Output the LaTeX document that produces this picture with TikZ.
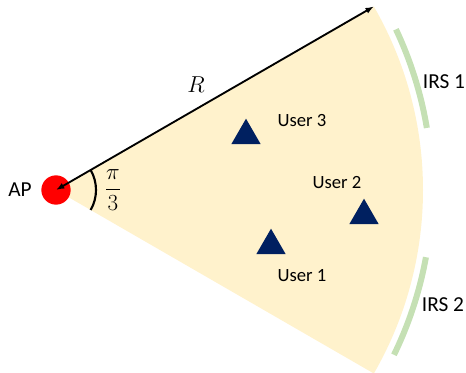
\documentclass[tikz,border=0pt]{standalone}
\usepackage{amsmath}
\usepackage{fontspec}
\setmainfont{Carlito}
\usepackage{tikz}
\usetikzlibrary{positioning,arrows.meta,shapes.geometric}
\definecolor{sectorfill}{HTML}{FFF2CC}
\definecolor{usernavy}{HTML}{002060}
\definecolor{irsgreen}{HTML}{C5E0B4}

\begin{document}
\begin{tikzpicture}[
  x=0.75pt, y=0.75pt,
  lbl/.style={font=\fontsize{14}{16}\selectfont, inner sep=0pt},
  biglbl/.style={font=\fontsize{16}{18}\selectfont, inner sep=0pt},
  user/.style={regular polygon, regular polygon sides=3, fill=usernavy, minimum size=25.5pt, inner sep=0pt},
  irs/.style={irsgreen, line width=4.5pt},
  arr/.style={{Latex[length=2.2mm]}-{Latex[length=2.2mm]}, line width=1.4pt}
]
\useasboundingbox (-56,-183) rectangle (410,190);
\coordinate (ap0) at (0,0);
\coordinate (tip) at (30:367);
\fill[sectorfill] (ap0) -- (tip) arc[start angle=30, end angle=-30, radius=367] -- cycle;
\draw[irs] (25.3:376) arc[start angle=25.3, end angle=9.5, radius=376];
\draw[irs] (-10.3:376) arc[start angle=-10.3, end angle=-26, radius=376];
\node[circle, fill=red, minimum size=22pt, inner sep=0pt] (ap) at (ap0) {};
\draw[arr] (tip) -- (ap0);
\draw[line width=1.6pt] (30:40) arc[start angle=30, end angle=-30, radius=40];
\node[biglbl] (aplbl) at (-36,0) {AP};
\node[inner sep=0pt, font=\fontsize{17}{20}\selectfont] (ang) at (57,0) {$\displaystyle\frac{\pi}{3}$};
\node[inner sep=0pt, font=\fontsize{18}{20}\selectfont] (rlbl) at (140,105) {$R$};
\node[user] (u3) at (190,54.3) {};
\node[user] (u2) at (308,-25.7) {};
\node[user] (u1) at (215,-55.7) {};
\node[lbl] (u3lbl) at (246,69) {User 3};
\node[lbl] (u2lbl) at (281,7) {User 2};
\node[lbl] (u1lbl) at (246,-86) {User 1};
\node[biglbl] (irs1) at (388,108) {IRS 1};
\node[biglbl] (irs2) at (387,-115) {IRS 2};
\end{tikzpicture}
\end{document}
